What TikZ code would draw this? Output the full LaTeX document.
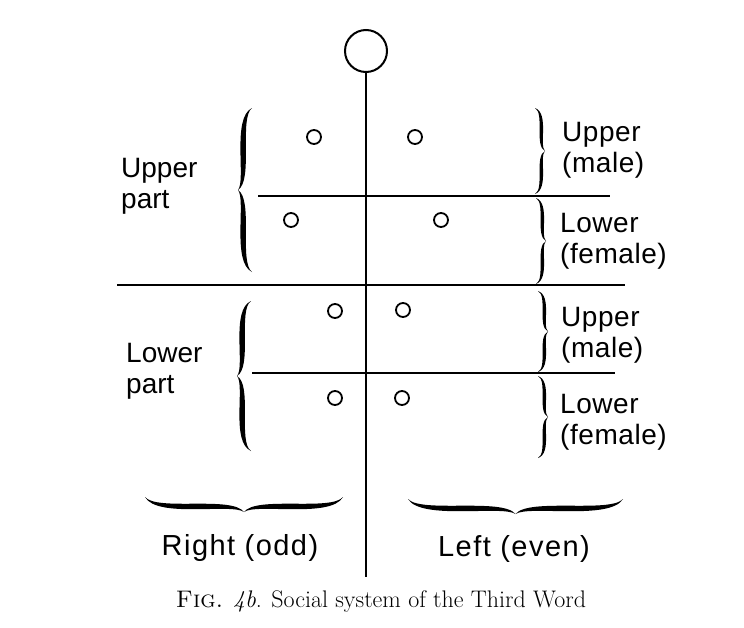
\documentclass[tikz,border=0pt]{standalone}
\usepackage{fontspec}
\newfontfamily\labfont{Liberation Sans}
\newfontfamily\wlabfont[LetterSpace=5]{Liberation Sans}
\newfontfamily\rlabfont[LetterSpace=2]{Liberation Sans}
\newcommand\calbrace[6][]{%
 \begin{scope}[shift={(#2,#3)},#1]
 \pgfmathsetmacro\bL{#4}\pgfmathsetmacro\bA{#5}\pgfmathsetmacro\bD{(#6)/1.5}
 \pgfmathsetmacro\xa{-1.2*(\bA)-\bD}
 \pgfmathsetmacro\xb{-1.2*(\bA)+\bD}
 \pgfmathsetmacro\xc{-0.15*(\bA)-\bD}
 \pgfmathsetmacro\xd{-0.15*(\bA)+\bD}
 \pgfmathsetmacro\xt{-1*(\bA)}
 \pgfmathsetmacro\yA{-0.06*(\bL)}
 \pgfmathsetmacro\yB{-0.44*(\bL)}
 \pgfmathsetmacro\yT{-0.5*(\bL)}
 \pgfmathsetmacro\yC{-0.56*(\bL)}
 \pgfmathsetmacro\yD{-0.94*(\bL)}
 \pgfmathsetmacro\yE{-1*(\bL)}
 \fill (0,0) .. controls (\xa,\yA) and (\xc,\yB) .. (\xt,\yT)
   .. controls (\xc,\yC) and (\xa,\yD) .. (0,\yE)
   .. controls (\xb,\yD) and (\xd,\yC) .. (\xt,\yT)
   .. controls (\xd,\yB) and (\xb,\yA) .. (0,0) -- cycle;
 \end{scope}}
\tikzset{
 ln/.style={line width=1.8pt},
 dot/.style={circle, draw, line width=1.8pt, minimum size=14pt, inner sep=0pt},
 bigc/.style={circle, draw, line width=2pt, minimum size=42pt, inner sep=0pt},
 lab/.style={font=\labfont\fontsize{28}{31}\selectfont, align=left, inner sep=0pt},
 rlab/.style={font=\rlabfont\fontsize{28}{31}\selectfont, align=left, inner sep=0pt},
 blab/.style={font=\wlabfont\fontsize{29}{33}\selectfont, inner sep=0pt},
 caption/.style={font=\fontsize{24}{27}\selectfont, inner sep=0pt}
}
\begin{document}
\begin{tikzpicture}[x=1pt,y=1pt]
\useasboundingbox (0,0) rectangle (744,-627);
% main circle and vertical axis
\node[bigc] (top) at (366,-51) {};
\coordinate (vb) at (366,-577);
\draw[ln] (top.south) -- (vb);
% horizontal lines
\coordinate (h1a) at (258,-196); \coordinate (h1b) at (610,-196);
\coordinate (h2a) at (117,-285); \coordinate (h2b) at (625,-285);
\coordinate (h3a) at (252,-373); \coordinate (h3b) at (615,-373);
\draw[ln] (h1a) -- (h1b);
\draw[ln] (h2a) -- (h2b);
\draw[ln] (h3a) -- (h3b);
% small circles
\node[dot] (d1) at (314,-137) {};
\node[dot] (d2) at (415,-137) {};
\node[dot] (d3) at (291,-220) {};
\node[dot] (d4) at (441,-220) {};
\node[dot] (d5) at (335,-311) {};
\node[dot] (d6) at (403,-310) {};
\node[dot] (d7) at (335,-398) {};
\node[dot] (d8) at (402,-398) {};
% left braces
\calbrace{252}{-108}{164}{14}{5.5}
\calbrace{251}{-301}{150}{14}{5.5}
% right braces
\calbrace{535}{-108}{86}{-10}{3.5}
\calbrace{536}{-198}{86}{-10}{3.5}
\calbrace{538}{-291}{81}{-10}{3.5}
\calbrace{538}{-376}{82}{-10}{3.5}
% bottom braces
\calbrace[rotate=90]{145}{-497}{198}{15}{5.5}
\calbrace[rotate=90]{408}{-499}{215}{15}{5.5}
% labels
\node[lab, anchor=west] (up) at (121,-186) {Upper\\part};
\node[lab, anchor=west] (lp) at (126,-371) {Lower\\part};
\node[rlab, anchor=west] (um1) at (562,-150) {Upper\\(male)};
\node[rlab, anchor=west] (lf1) at (560,-241) {Lower\\(female)};
\node[rlab, anchor=west] (um2) at (561,-335) {Upper\\(male)};
\node[rlab, anchor=west] (lf2) at (560,-422) {Lower\\(female)};
\node[blab, anchor=base] (rodd) at (240,-555) {Right (odd)};
\node[blab, anchor=base] (leven) at (514,-556) {Left (even)};
\node[caption, anchor=base] (cap) at (381,-607) {\textsc{Fig.} \textit{\oldstylenums{4}b}. Social system of the Third Word};
\end{tikzpicture}
\end{document}
